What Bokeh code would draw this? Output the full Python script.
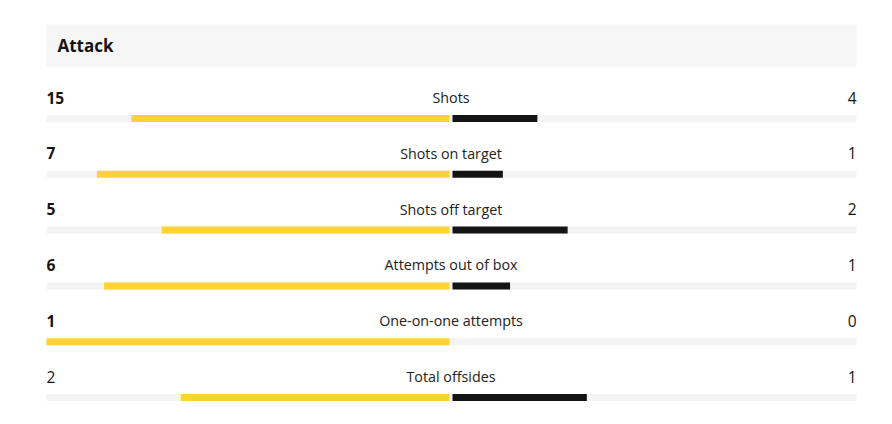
from bokeh.plotting import figure
from bokeh.models import Range1d
from bokeh.core.properties import value
from bokeh.embed import file_html
from bokeh.resources import INLINE

section = "Attack"
categories = ["Shots", "Shots on target", "Shots off target",
              "Attempts out of box", "One-on-one attempts", "Total offsides"]
home = [15, 7, 5, 6, 1, 2]
away = [4, 1, 2, 1, 0, 1]
home_bold = [True, True, True, True, True, False]

W, H = 884, 416
p = figure(width=W, height=H, output_backend="svg", toolbar_location=None,
           x_range=Range1d(0, W), y_range=Range1d(H, 0), min_border=0)
p.xaxis.visible = False
p.yaxis.visible = False
p.grid.visible = False
p.outline_line_color = None
p.background_fill_color = "white"
p.border_fill_color = "white"

OX, OY = 0, 0
track_l, track_r = 46 - OX, 856 - OX
mid_l, mid_r = 449 - OX, 452 - OX
half = 403
FONT = "Open Sans"

# header box
p.quad(left=[track_l], right=[track_r], top=[24 - OY], bottom=[66 - OY],
       fill_color="#f6f6f6", line_color=None)
p.text(x=[57 - OX], y=[45 - OY], text=[section], text_font=value(FONT),
       text_font_size="17px", text_font_style="bold", text_color="#141414",
       text_align="left", text_baseline="middle")

n = len(categories)
label_y = [97 - OY + 55.8 * i for i in range(n)]
bar_top = [y + 17.5 for y in label_y]
bar_bot = [y + 7 for y in bar_top]

tot = [h + a for h, a in zip(home, away)]
hl = [mid_l - half * h / t for h, t in zip(home, tot)]
ar = [mid_r + half * a / t for a, t in zip(away, tot)]

p.quad(left=[track_l] * n, right=[track_r] * n, top=bar_top, bottom=bar_bot,
       fill_color="#f4f4f4", line_color=None)
p.quad(left=hl, right=[mid_l] * n, top=bar_top, bottom=bar_bot,
       fill_color="#fdd232", line_color=None)
p.quad(left=[mid_r] * n, right=ar, top=bar_top, bottom=bar_bot,
       fill_color="#141414", line_color=None)

p.text(x=[(mid_l + mid_r) / 2] * n, y=label_y, text=categories,
       text_font=value(FONT), text_font_size="14.3px", text_color="#222222",
       text_align="center", text_baseline="middle")

for i in range(n):
    p.text(x=[track_l], y=[label_y[i]], text=[str(home[i])],
           text_font=value(FONT), text_font_size="15.5px",
           text_font_style="bold" if home_bold[i] else "normal",
           text_color="#141414", text_align="left", text_baseline="middle")
p.text(x=[track_r] * n, y=label_y, text=[str(a) for a in away],
       text_font=value(FONT), text_font_size="15.5px", text_color="#141414",
       text_align="right", text_baseline="middle")

open("out.html", "w").write(file_html(p, INLINE))
